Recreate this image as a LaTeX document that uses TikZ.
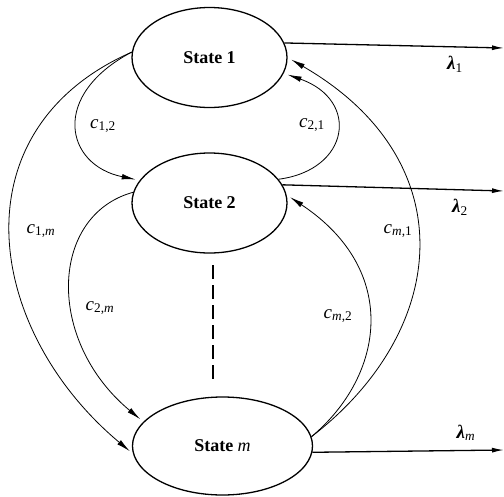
\documentclass[tikz,border=0pt]{standalone}
\usepackage{fontspec}
\setmainfont{Liberation Serif}
\usetikzlibrary{arrows.meta, shapes.geometric}

\begin{document}
\begin{tikzpicture}[
  x=1pt, y=-1pt,
  state/.style={ellipse, draw=black, line width=1.3pt, inner sep=0pt,
                minimum width=155pt, minimum height=100pt,
                font=\fontsize{18}{21}\selectfont\bfseries},
  rate/.style={font=\fontsize{19}{22}\selectfont},
  trans/.style={-{Latex[length=14pt, width=5.5pt]}, line width=0.8pt, shorten >=4pt},
  leave/.style={-{Latex[length=12pt, width=5pt]}, line width=1.3pt}
]
  \useasboundingbox (0,0) rectangle (504,496);

  % states
  \node[state] (s1) at (209.5,57.5) {State 1};
  \node[state] (s2) at (209.5,203) {State 2};
  \node[state, minimum width=180pt, minimum height=98pt] (sm) at (222.5,446) {State {\mdseries\itshape m}};

  \coordinate (d1) at (213,265);
  \coordinate (d2) at (213,379);
  \draw[line width=1.5pt, dash pattern=on 14pt off 6pt] (d1) -- (d2);

  % leaving rates
  \coordinate (o1) at (504,48);
  \coordinate (o2) at (504,191);
  \coordinate (om) at (504,450);
  \draw[leave] (s1.11) -- (o1);
  \draw[leave] (s2.14) -- (o2);
  \draw[leave] (sm.-4) -- (om);
  \node[rate] (l1) at (455,64) {{\bfseries\itshape λ}\textsubscript{1}};
  \node[rate] (l2) at (460,207) {{\bfseries\itshape λ}\textsubscript{2}};
  \node[rate] (lm) at (466,433) {{\bfseries\itshape λ}\textsubscript{\itshape m}};

  % transitions
  \draw[trans] (s1.176) .. controls (50,95) and (65,165) .. (s2.162);
  \draw[trans] (s1.176) .. controls (-45,130) and (-15,330) .. (sm.185);
  \draw[trans] (s2.172) .. controls (50,215) and (45,340) .. (sm.163);
  \draw[trans] (s2.19) .. controls (350,170) and (360,100) .. (s1.-12);
  \draw[trans] (sm.6) .. controls (450,330) and (465,160) .. (s1.0);
  \draw[trans] (sm.6) .. controls (385,375) and (400,270) .. (s2.6);

  \node[rate] (c12) at (103,126) {{\itshape c}\textsubscript{1,2}};
  \node[rate] (c21) at (312,125) {{\itshape c}\textsubscript{2,1}};
  \node[rate] (c1m) at (41,231) {{\itshape c}\textsubscript{1,\itshape m}};
  \node[rate] (cm1) at (398,231) {{\itshape c}\textsubscript{\itshape m\upshape,1}};
  \node[rate] (c2m) at (100,308) {{\itshape c}\textsubscript{2,\itshape m}};
  \node[rate] (cm2) at (338,316) {{\itshape c}\textsubscript{\itshape m\upshape,2}};
\end{tikzpicture}
\end{document}
